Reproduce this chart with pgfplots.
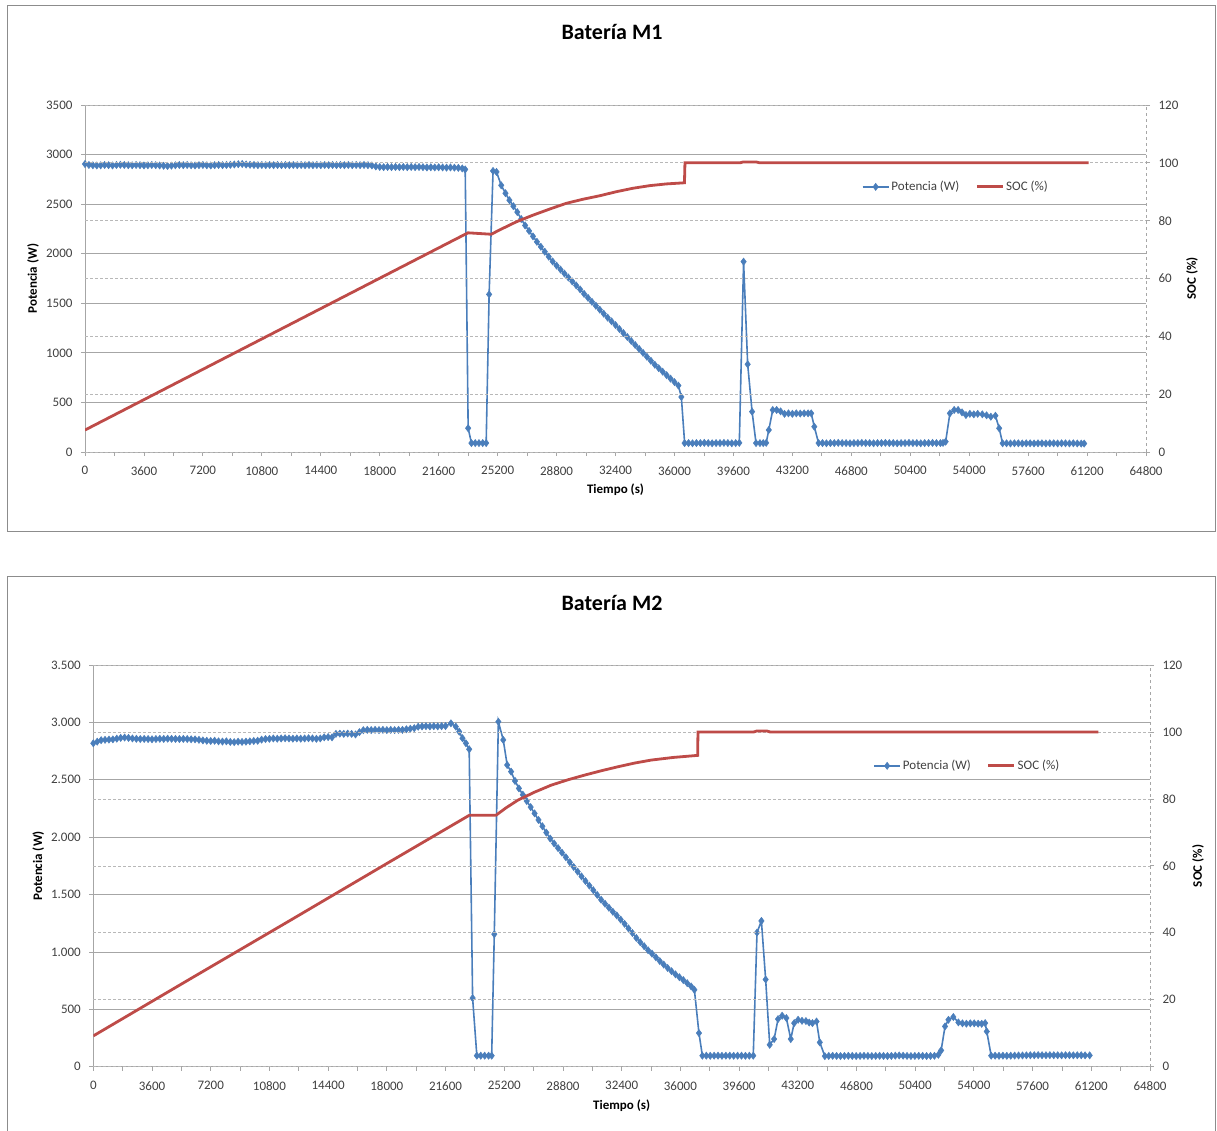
\documentclass[border=0pt]{standalone}
\usepackage{pgfplots}
\pgfplotsset{compat=1.18}
\usepackage{fontspec}
\setmainfont{Carlito}
\definecolor{pblue}{HTML}{4A7EBB}
\definecolor{sred}{HTML}{BE4B48}
\definecolor{gridc}{HTML}{A6A6A6}
\definecolor{framec}{HTML}{8C8C8C}
\definecolor{txt}{HTML}{404040}

\pgfplotsset{
  base/.style={
    scale only axis, xmin=0, xmax=64800,
    /pgf/number format/assume math mode=true,
    scaled ticks=false,
    ticklabel style={font=\fontsize{13}{15}\selectfont, text=txt},
    label style={font=\bfseries\fontsize{13}{15}\selectfont, text=black},
    tick style={gridc, line width=0.8pt},
    tick align=outside, major tick length=4pt, minor tick length=4pt,
    axis line style={gridc, line width=0.8pt},
  },
  leftax/.style={
    base,
    axis x line*=bottom, axis y line*=left,
    ymin=0, ymax=3500, ytick={0,500,...,3500},
    xtick={0,3600,...,64800}, minor xtick={1800,5400,...,63000},
    xticklabel style={yshift=-7pt, /pgf/number format/.cd, fixed, set thousands separator={}},
    ymajorgrids, major grid style={gridc, line width=0.8pt},
    xlabel={Tiempo (s)}, ylabel={Potencia (W)},
  },
  rightax/.style={
    base,
    axis x line=none, axis y line*=right,
    axis line style={gridc, line width=0.8pt, dashed},
    ymin=0, ymax=120, ytick={0,20,...,120},
    yticklabel style={xshift=5pt},
    ymajorgrids, major grid style={gridc!80, line width=0.7pt, dash pattern=on 3pt off 2pt},
    ylabel={SOC (\%)},
    legend columns=2,
    legend style={draw=none, fill=none, font=\fontsize{13}{15}\selectfont, text=txt,
      /tikz/every even column/.append style={column sep=14pt}, inner sep=0pt},
    legend image code/.code={\draw[mark repeat=2,mark phase=2,#1] plot coordinates {(0pt,0pt) (13pt,0pt) (26pt,0pt)};},
  },
  pstyle/.style={pblue, line width=1.6pt, mark=diamond*, mark size=3.6pt, mark options={solid, fill=pblue, draw=pblue, line width=0.5pt}},
  sstyle/.style={sred, line width=2.8pt, no markers},
}

\begin{document}
\begin{tikzpicture}
\useasboundingbox (0pt,0pt) rectangle (1217pt,-1131pt);
\draw[framec, line width=1pt] (7.5pt,-6pt) rectangle (1215.5pt,-531.5pt);
\draw[framec, line width=1pt] (7.5pt,-1135pt) -- (7.5pt,-576.5pt) -- (1215.5pt,-576.5pt) -- (1215.5pt,-1135pt);
\node[font=\bfseries\fontsize{22}{26}\selectfont] at (612pt,-32pt) {Batería M1};
\node[font=\bfseries\fontsize{22}{26}\selectfont] at (612pt,-603pt) {Batería M2};

% ---------------- Top chart ----------------
\begin{axis}[leftax, at={(85pt,-452pt)}, anchor=south west, width=1061pt, height=347pt,
  yticklabel style={xshift=-5pt, /pgf/number format/.cd, fixed, set thousands separator={}},
  ylabel style={at={(axis description cs:-0.049,0.5)}, anchor=center},
  xlabel style={at={(axis description cs:0.5,-0.11)}, anchor=center}]
\addplot[pstyle] coordinates {
(0,2905)(240,2895)(480,2892)(720,2890)(960,2892)(1200,2895)(1440,2893)(1680,2890)(1920,2895)(2160,2897)
(2400,2895)(2640,2893)(2880,2892)(3120,2895)(3360,2893)(3600,2890)(3840,2892)(4080,2895)(4320,2893)(4560,2890)
(4800,2887)(5040,2885)(5280,2888)(5520,2892)(5760,2895)(6000,2893)(6240,2895)(6480,2892)(6720,2890)(6960,2893)
(7200,2895)(7440,2892)(7680,2890)(7920,2893)(8160,2895)(8400,2893)(8640,2895)(8880,2897)(9120,2900)(9360,2903)
(9600,2905)(9840,2900)(10080,2897)(10320,2895)(10560,2893)(10800,2895)(11040,2893)(11280,2895)(11520,2893)(11760,2895)
(12000,2893)(12240,2895)(12480,2893)(12720,2895)(12960,2893)(13200,2895)(13440,2893)(13680,2895)(13920,2893)(14160,2895)
(14400,2893)(14640,2895)(14880,2893)(15120,2895)(15360,2893)(15600,2895)(15840,2893)(16080,2895)(16320,2893)(16560,2895)
(16800,2893)(17040,2895)(17280,2893)(17520,2890)(17760,2880)(18000,2875)(18240,2873)(18480,2875)(18720,2873)(18960,2875)
(19200,2873)(19440,2875)(19680,2873)(19920,2875)(20160,2873)(20400,2875)(20640,2873)(20880,2870)(21120,2872)(21360,2870)
(21600,2872)(21840,2870)(22080,2868)(22320,2870)(22560,2868)(22800,2866)(23040,2860)(23220,2850)(23400,240)(23600,90)
(23830,90)(24060,90)(24290,90)(24500,90)(24680,1590)(24920,2835)(25130,2825)(25420,2690)(25680,2610)(25920,2540)
(26160,2480)(26400,2420)(26640,2350)(26880,2285)(27120,2230)(27360,2175)(27600,2120)(27840,2070)(28080,2020)(28320,1970)
(28560,1922)(28800,1880)(29040,1840)(29280,1800)(29520,1760)(29760,1720)(30000,1680)(30240,1640)(30480,1595)(30720,1555)
(30960,1515)(31200,1475)(31440,1435)(31680,1395)(31920,1355)(32160,1318)(32400,1280)(32640,1240)(32880,1200)(33120,1160)
(33360,1120)(33600,1080)(33840,1040)(34080,1000)(34320,960)(34560,920)(34800,880)(35040,845)(35280,810)(35520,775)
(35760,740)(36000,705)(36240,670)(36420,555)(36620,90)(36860,90)(37100,88)(37340,90)(37580,90)(37820,92)
(38060,90)(38300,88)(38540,90)(38780,90)(39020,92)(39260,90)(39500,88)(39740,90)(39960,92)(40220,1920)
(40470,885)(40740,407)(40980,90)(41220,90)(41420,90)(41600,92)(41760,222)(42000,424)(42240,424)(42480,410)
(42720,385)(42960,390)(43200,385)(43440,390)(43680,388)(43920,390)(44160,390)(44350,390)(44540,255)(44800,90)
(45040,90)(45280,88)(45520,90)(45760,90)(46000,92)(46240,90)(46480,90)(46720,88)(46960,90)(47200,90)
(47440,92)(47680,90)(47920,90)(48160,88)(48400,90)(48640,90)(48880,92)(49120,90)(49360,90)(49600,88)
(49840,90)(50080,90)(50320,92)(50560,90)(50800,90)(51040,88)(51280,90)(51520,90)(51760,92)(52000,90)
(52240,90)(52400,92)(52560,104)(52820,390)(53080,424)(53320,424)(53560,400)(53800,373)(54040,385)(54280,380)
(54520,385)(54800,380)(55060,370)(55320,356)(55600,366)(55830,239)(56040,88)(56280,88)(56520,86)(56760,88)
(57000,88)(57240,86)(57480,88)(57720,88)(57960,86)(58200,88)(58440,88)(58680,86)(58920,88)(59160,88)
(59400,86)(59640,88)(59880,88)(60120,86)(60360,88)(60600,86)(60840,85)(61020,85)
};
\end{axis}
\begin{axis}[rightax, at={(85pt,-452pt)}, anchor=south west, width=1061pt, height=347pt,
  ylabel style={at={(axis description cs:1.0433,0.5)}, anchor=center},
  legend style={at={(0.732,0.764)}, anchor=west}]
\addlegendimage{pstyle}
\addlegendentry{Potencia (W)}
\addplot[sstyle] coordinates {
(0,7.6)(6000,25.1)(12000,42.6)(18000,60.1)(23390,75.8)(24810,75.3)(25323,76.8)(26340,79.6)(27356,81.9)
(28373,84.0)(29390,86.0)(30406,87.4)(31423,88.6)(32440,90.0)(33457,91.2)(34475,92.1)(35490,92.7)(36610,93.1)
(36640,100)(40000,100)(40200,100.3)(41000,100.3)(41200,100)(61290,100)
};
\addlegendentry{SOC (\%)}
\end{axis}

% ---------------- Bottom chart ----------------
\begin{axis}[leftax, at={(93.3pt,-1066.7pt)}, anchor=south west, width=1056.7pt, height=401.7pt,
  yticklabel style={xshift=-5pt, /pgf/number format/.cd, fixed, set thousands separator={.}},
  ylabel style={at={(axis description cs:-0.052,0.5)}, anchor=center},
  xlabel style={at={(axis description cs:0.5,-0.098)}, anchor=center}]
\addplot[pstyle] coordinates {
(0,2818)(240,2832)(480,2845)(720,2848)(960,2850)(1200,2852)(1440,2858)(1680,2865)(1920,2868)(2160,2865)
(2400,2860)(2640,2857)(2880,2855)(3120,2856)(3360,2855)(3600,2853)(3840,2855)(4080,2857)(4320,2856)(4560,2858)
(4800,2857)(5040,2856)(5280,2855)(5520,2856)(5760,2855)(6000,2853)(6240,2852)(6480,2848)(6720,2843)(6960,2840)
(7200,2838)(7440,2840)(7680,2835)(7920,2833)(8160,2835)(8400,2830)(8640,2828)(8880,2832)(9120,2830)(9360,2832)
(9600,2835)(9840,2838)(10080,2840)(10320,2850)(10560,2855)(10800,2857)(11040,2860)(11280,2858)(11520,2860)(11760,2862)
(12000,2860)(12240,2858)(12480,2860)(12720,2858)(12960,2860)(13200,2862)(13440,2860)(13680,2857)(13920,2860)(14160,2870)
(14400,2872)(14640,2870)(14880,2900)(15120,2902)(15360,2900)(15600,2903)(15840,2900)(16080,2895)(16320,2915)(16560,2932)
(16800,2935)(17040,2933)(17280,2935)(17520,2933)(17760,2935)(18000,2933)(18240,2935)(18480,2933)(18720,2935)(18960,2935)
(19200,2940)(19440,2945)(19680,2950)(19920,2962)(20160,2965)(20400,2967)(20640,2965)(20880,2967)(21120,2965)(21360,2967)
(21600,2968)(21930,2992)(22230,2963)(22440,2919)(22640,2862)(22850,2818)(23050,2766)(23260,598)(23520,96)(23760,96)
(24000,96)(24240,96)(24430,96)(24590,1155)(24840,3006)(25140,2847)(25380,2629)(25620,2571)(25860,2490)(26100,2425)
(26340,2370)(26580,2315)(26820,2262)(27060,2207)(27300,2150)(27540,2095)(27780,2040)(28020,1988)(28260,1945)(28500,1905)
(28740,1865)(28980,1825)(29220,1782)(29460,1740)(29700,1700)(29940,1658)(30180,1618)(30420,1578)(30660,1538)(30900,1497)
(31140,1455)(31380,1420)(31620,1385)(31860,1350)(32100,1318)(32340,1282)(32580,1245)(32820,1205)(33060,1165)(33300,1122)
(33540,1085)(33780,1050)(34020,1015)(34260,985)(34500,953)(34740,920)(34980,890)(35220,860)(35460,832)(35700,805)
(35940,780)(36180,755)(36420,728)(36660,700)(36860,670)(37140,293)(37350,96)(37590,96)(37830,95)(38070,96)
(38310,96)(38550,95)(38790,96)(39030,96)(39270,95)(39510,96)(39750,96)(39990,95)(40230,96)(40470,96)
(40700,1169)(40970,1270)(41230,760)(41480,191)(41750,241)(41990,415)(42240,444)(42500,424)(42770,241)(42980,380)
(43220,409)(43460,400)(43700,398)(43900,385)(44100,380)(44350,394)(44550,212)(44860,92)(45100,94)(45340,95)
(45580,94)(45820,93)(46060,94)(46300,95)(46540,94)(46780,93)(47020,94)(47260,95)(47500,94)(47740,93)
(47980,94)(48220,95)(48460,94)(48700,93)(48940,94)(49180,96)(49420,98)(49660,96)(49900,94)(50140,93)
(50380,94)(50620,95)(50860,94)(51100,93)(51340,94)(51580,95)(51820,104)(51990,142)(52230,351)(52440,409)
(52740,433)(53050,386)(53300,378)(53540,375)(53780,378)(54020,378)(54260,375)(54480,374)(54690,380)(54790,307)
(55060,96)(55300,96)(55540,95)(55780,96)(56020,95)(56260,96)(56500,97)(56740,98)(56980,98)(57220,99)
(57460,100)(57700,100)(57940,101)(58180,100)(58420,100)(58660,101)(58900,100)(59140,100)(59380,99)(59620,100)
(59860,100)(60100,99)(60340,100)(60580,100)(60820,99)(61100,99)
};
\end{axis}
\begin{axis}[rightax, at={(93.3pt,-1066.7pt)}, anchor=south west, width=1056.7pt, height=401.7pt,
  ylabel style={at={(axis description cs:1.0454,0.5)}, anchor=center},
  legend style={at={(0.738,0.749)}, anchor=west}]
\addlegendimage{pstyle}
\addlegendentry{Potencia (W)}
\addplot[sstyle] coordinates {
(0,9.2)(6000,26.4)(12000,43.5)(18000,60.7)(23053,75.1)(24690,75.1)(25300,77.3)(26026,79.6)(27050,82.0)
(28074,84.1)(29097,85.7)(30120,87.1)(31143,88.4)(32167,89.6)(33188,90.7)(34210,91.6)(35590,92.4)(37060,93.0)
(37080,100)(40500,100)(40700,100.3)(41300,100.3)(41500,100)(61630,100)
};
\addlegendentry{SOC (\%)}
\end{axis}
\end{tikzpicture}
\end{document}
